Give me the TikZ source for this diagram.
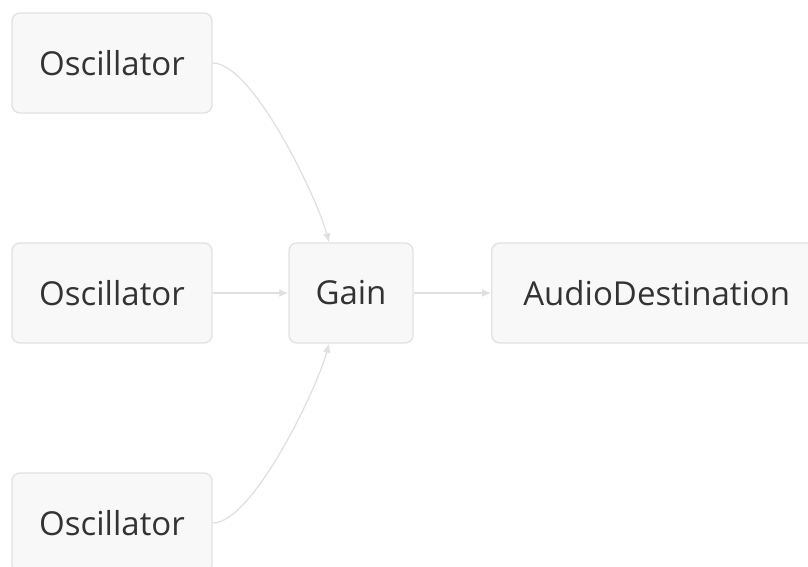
\documentclass[tikz,border=0pt]{standalone}
\usepackage{fontspec}
\setmainfont{Open Sans}
\usetikzlibrary{arrows.meta,calc}
\definecolor{nodefill}{HTML}{F8F8F8}
\definecolor{nodeborder}{HTML}{E2E2E2}
\definecolor{edgecol}{HTML}{E0E0E0}
\definecolor{textcol}{HTML}{333333}
\tikzset{
  box/.style={draw=nodeborder, line width=1.4pt, fill=nodefill, rounded corners=8pt,
    minimum height=100pt, inner sep=0pt, text=textcol, font=\fontsize{33}{38}\selectfont},
  link/.style={draw=edgecol, line width=1.3pt, -{Latex[length=9pt,width=8pt]}}
}
\begin{document}
\begin{tikzpicture}[x=1pt,y=1pt]
\useasboundingbox (0,0) rectangle (808,-567);
\node[box, minimum width=200pt] (o1) at (112,-63) {Oscillator};
\node[box, minimum width=200pt] (o2) at (112,-293) {Oscillator};
\node[box, minimum width=200pt] (o3) at (112,-523) {Oscillator};
\node[box, minimum width=124pt] (g) at (351,-293) {Gain};
\node[box, minimum width=330pt, anchor=west] (ad) at (491,-293) {AudioDestination};
\draw[link] (o1.east) .. controls +(40,0) and +(-12,45) .. ([xshift=-22pt]g.north);
\draw[link] (o3.east) .. controls +(40,0) and +(-12,-45) .. ([xshift=-22pt]g.south);
\draw[link] (o2.east) -- (g.west);
\draw[link] (g.east) -- (ad.west);
\end{tikzpicture}
\end{document}
